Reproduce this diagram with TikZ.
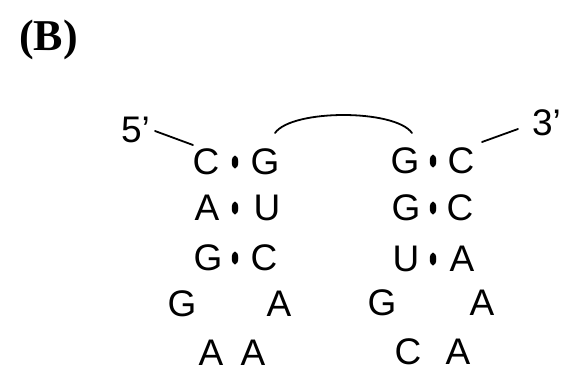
\documentclass[tikz,border=0pt]{standalone}
\usepackage{fontspec}
\setmainfont{Liberation Serif}
\newfontfamily\arialf{Liberation Sans}
\usetikzlibrary{shapes.geometric}
\begin{document}
\begin{tikzpicture}[x=1pt,y=-1pt,
  base/.style={inner sep=0pt, outer sep=0pt, font=\arialf\fontsize{37}{40}\selectfont},
  bp/.style={ellipse, fill=black, inner sep=0pt, minimum width=6.5pt, minimum height=13pt},
  lnk/.style={line width=1.8pt, line cap=round}]
\useasboundingbox (0,0) rectangle (565,370);
\node[inner sep=0pt, anchor=base west, font=\bfseries\fontsize{44}{48}\selectfont] (lbl) at (19,50) {(B)};
% ends
\node[base, anchor=base west] (five) at (121,142) {5’};
\node[base, anchor=base west] (three) at (532,135) {3’};
% left stem
\node[base] (l1a) at (206,162) {C}; \node[bp] (l1d) at (235,162) {}; \node[base] (l1b) at (265,162) {G};
\node[base] (l2a) at (207,208) {A}; \node[bp] (l2d) at (235,208) {}; \node[base] (l2b) at (267,208) {U};
\node[base] (l3a) at (208,258) {G}; \node[bp] (l3d) at (235,258) {}; \node[base] (l3b) at (264,258) {C};
\node[base] (l4a) at (182,304) {G}; \node[base] (l4b) at (279,304) {A};
\node[base] (l5a) at (211,353) {A}; \node[base] (l5b) at (253,353) {A};
% right stem
\node[base] (r1a) at (405,161) {G}; \node[bp] (r1d) at (433,161) {}; \node[base] (r1b) at (461,161) {C};
\node[base] (r2a) at (406,208) {G}; \node[bp] (r2d) at (433,208) {}; \node[base] (r2b) at (460,208) {C};
\node[base] (r3a) at (406,259) {U}; \node[bp] (r3d) at (433,259) {}; \node[base] (r3b) at (462,259) {A};
\node[base] (r4a) at (382,303) {G}; \node[base] (r4b) at (482,303) {A};
\node[base] (r5a) at (408,352) {C}; \node[base] (r5b) at (458,352) {A};
% connectors
\coordinate (p5) at (155,131); \coordinate (pC) at (193,145);
\coordinate (pG1) at (275,133); \coordinate (pG2) at (412,133);
\coordinate (pC2) at (482,142); \coordinate (p3) at (518,129);
\draw[lnk] (p5) -- (pC);
\draw[lnk] (pG1) .. controls (292,109) and (395,109) .. (pG2);
\draw[lnk] (pC2) -- (p3);
\end{tikzpicture}
\end{document}
